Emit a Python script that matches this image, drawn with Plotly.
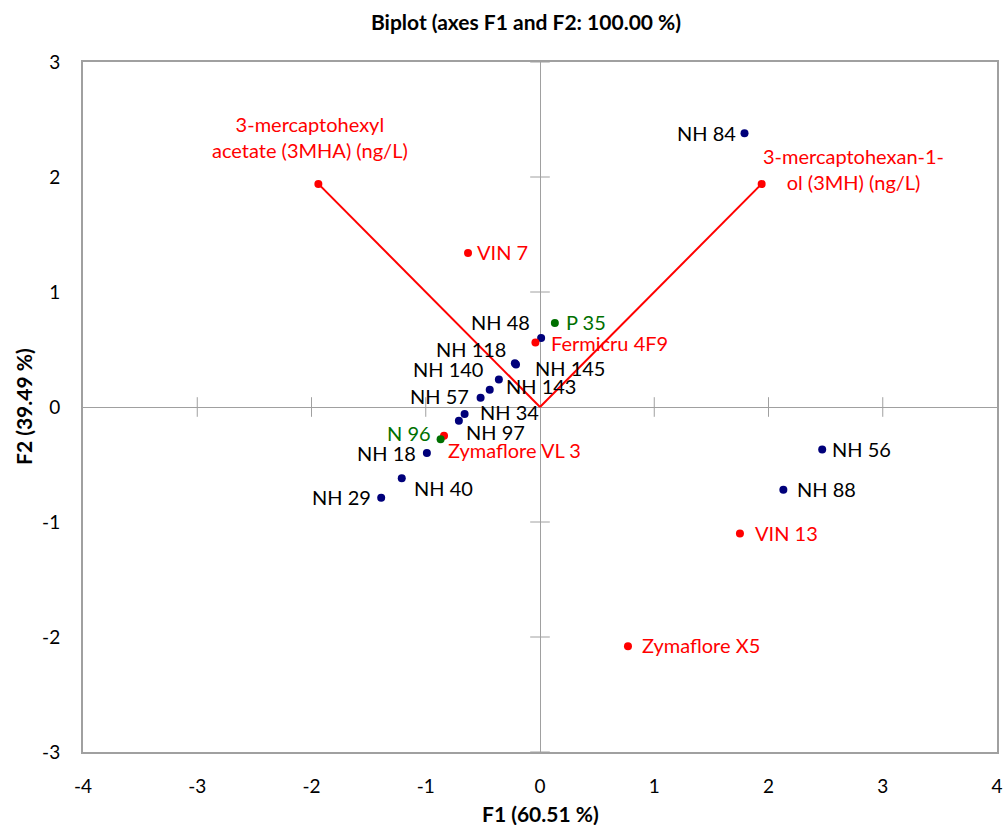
import plotly.graph_objects as go

# Observations (yeast strains) on the first two factorial axes
nh_names = ["NH 84", "NH 48", "NH 118", "NH 145", "NH 140", "NH 143", "NH 57",
            "NH 34", "NH 97", "NH 18", "NH 40", "NH 29", "NH 56", "NH 88"]
nh_f1 = [1.79, 0.01, -0.22, -0.21, -0.36, -0.44, -0.52, -0.66, -0.71, -0.99, -1.21, -1.39, 2.47, 2.13]
nh_f2 = [2.38, 0.60, 0.38, 0.37, 0.24, 0.15, 0.08, -0.06, -0.12, -0.40, -0.62, -0.79, -0.37, -0.72]

ref_names = ["VIN 7", "Fermicru 4F9", "Zymaflore VL 3", "VIN 13", "Zymaflore X5"]
ref_f1 = [-0.63, -0.04, -0.84, 1.75, 0.77]
ref_f2 = [1.34, 0.56, -0.25, -1.10, -2.08]

grn_names = ["P 35", "N 96"]
grn_f1 = [0.13, -0.87]
grn_f2 = [0.73, -0.28]

# Active variables (loadings)
var_names = ["3-mercaptohexyl<br>acetate (3MHA) (ng/L)", "3-mercaptohexan-1-<br>ol (3MH) (ng/L)"]
var_f1 = [-1.94, 1.94]
var_f2 = [1.94, 1.94]

axis_ticks = [-3, -2, -1, 1, 2, 3]
x_ticks = [-4, -3, -2, -1, 0, 1, 2, 3, 4]
y_ticks = [-3, -2, -1, 0, 1, 2, 3]

# label placement: (anchor side, x offset px, y offset px)
label_place = {
    "NH 84": ("right", -8, 0), "NH 48": ("right", -10, 16), "NH 118": ("right", -8, 14),
    "NH 145": ("left", 18, -4), "NH 140": ("right", -15, 10), "NH 143": ("left", 15, 4),
    "NH 57": ("right", -11, 2), "NH 34": ("left", 14, 2), "NH 97": ("left", 6, -11),
    "NH 18": ("right", -10, 0), "NH 40": ("left", 11, -10), "NH 29": ("right", -9, 1),
    "NH 56": ("left", 9, 1), "NH 88": ("left", 13, 1),
    "VIN 7": ("left", 8, 1), "Fermicru 4F9": ("left", 15, 0), "Zymaflore VL 3": ("left", 3, -14),
    "VIN 13": ("left", 14, 1), "Zymaflore X5": ("left", 13, 1),
    "P 35": ("left", 10, 1), "N 96": ("right", -9, 6),
}
var_label_shift = [(-8, 47), (92, 15)]

FONT = "Lato, 'Open Sans', sans-serif"
NAVY = "#00007A"
RED = "#FF0000"
GREEN = "#007000"
GRAY = "#A0A0A0"
LABEL_SIZE = 20

fig = go.Figure()

# small cross ticks along the zero lines
fig.add_trace(go.Scatter(
    x=axis_ticks, y=[0] * len(axis_ticks), mode="markers", hoverinfo="skip",
    marker=dict(symbol="line-ns", size=14, line=dict(color=GRAY, width=1))))
fig.add_trace(go.Scatter(
    x=[0] * len(axis_ticks), y=axis_ticks, mode="markers", hoverinfo="skip",
    marker=dict(symbol="line-ew", size=14, line=dict(color=GRAY, width=1))))

# variable vectors
for vx, vy in zip(var_f1, var_f2):
    fig.add_trace(go.Scatter(x=[0, vx], y=[0, vy], mode="lines",
                             line=dict(color=RED, width=2), hoverinfo="skip"))
fig.add_trace(go.Scatter(x=var_f1, y=var_f2, mode="markers",
                         marker=dict(color=RED, size=8)))
for name, vx, vy, (dx, dy) in zip(var_names, var_f1, var_f2, var_label_shift):
    fig.add_annotation(x=vx, y=vy, text=name, showarrow=False, xshift=dx, yshift=dy,
                       align="center", xanchor="center", yanchor="middle",
                       font=dict(family=FONT, size=LABEL_SIZE, color=RED))


def add_group(names, xs, ys, dot_color, text_color):
    fig.add_trace(go.Scatter(x=xs, y=ys, mode="markers", text=names,
                             marker=dict(color=dot_color, size=8)))
    for n, x, y in zip(names, xs, ys):
        side, dx, dy = label_place[n]
        fig.add_annotation(x=x, y=y, text=n, showarrow=False, xanchor=side,
                           yanchor="middle", xshift=dx, yshift=dy, borderpad=0,
                           font=dict(family=FONT, size=LABEL_SIZE, color=text_color))


add_group(nh_names, nh_f1, nh_f2, NAVY, "black")
add_group(ref_names, ref_f1, ref_f2, RED, RED)
add_group(grn_names, grn_f1, grn_f2, GREEN, GREEN)

fig.update_layout(
    width=1008, height=825, showlegend=False,
    paper_bgcolor="white", plot_bgcolor="white",
    margin=dict(l=83, r=5, t=62, b=73),
    font=dict(family=FONT, size=19, color="black"),
    title=dict(text="<b>Biplot (axes F1 and F2: 100.00 %)</b>", x=526 / 1008, xanchor="center",
               y=1 - 23 / 825, yanchor="middle", yref="container",
               font=dict(family=FONT, size=21, color="black")),
)
fig.update_xaxes(range=[-4, 4], tickvals=x_ticks, ticktext=[str(v) for v in x_ticks],
                 showgrid=False, zeroline=True, zerolinecolor=GRAY, zerolinewidth=1,
                 showline=True, mirror=True, linecolor=GRAY, linewidth=2,
                 ticks="", ticklabelstandoff=16, tickfont=dict(size=19))
fig.update_yaxes(range=[-3, 3], tickvals=y_ticks, ticktext=[str(v) for v in y_ticks],
                 showgrid=False, zeroline=True, zerolinecolor=GRAY, zerolinewidth=1,
                 showline=True, mirror=True, linecolor=GRAY, linewidth=2,
                 ticks="", ticklabelstandoff=17, tickfont=dict(size=19))

fig.add_annotation(text="<b>F1 (60.51 %)</b>", xref="paper", yref="paper", x=0.5, y=0,
                   yshift=-61, showarrow=False, xanchor="center", yanchor="middle",
                   font=dict(family=FONT, size=21))
fig.add_annotation(text="<b>F2 (39.49 %)</b>", xref="paper", yref="paper", x=0, y=0.5,
                   xshift=-60, showarrow=False, textangle=-90, xanchor="center",
                   yanchor="middle", font=dict(family=FONT, size=21))

fig.write_html("out.html")
